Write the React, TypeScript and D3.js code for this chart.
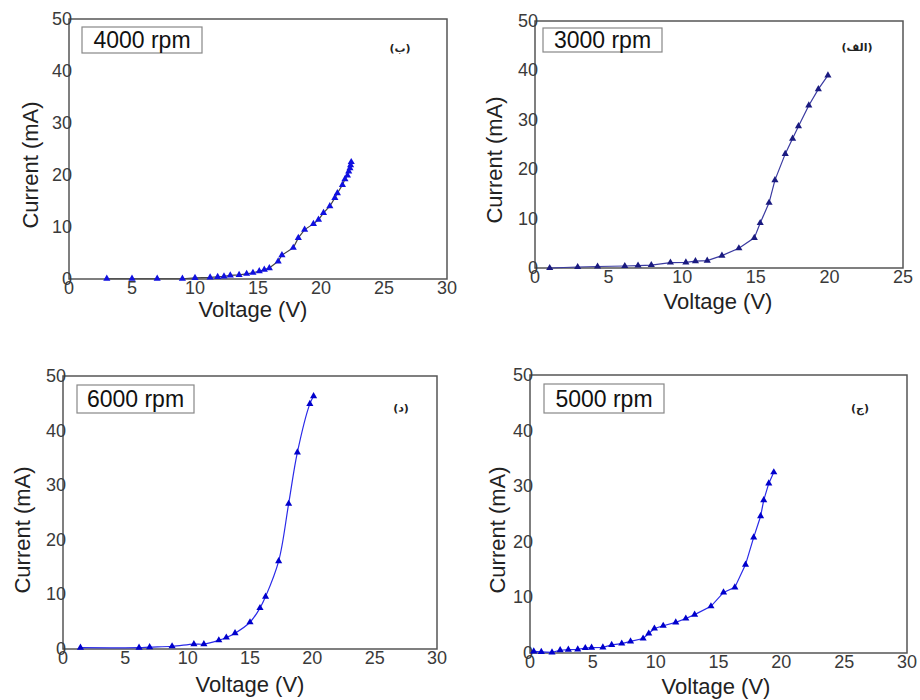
import * as d3 from "d3";
import React from "react";

// 4000 rpm (ب)
const v4000 = [3, 5, 7, 9, 10, 11.2, 11.8, 12.3, 12.8, 13.5, 14.1, 14.6, 15.1, 15.5, 15.9, 16.6, 16.9, 17.8, 18.2, 18.7, 19.4, 19.8, 20.2, 20.7, 21.1, 21.3, 21.7, 21.9, 22.1, 22.2, 22.3, 22.35, 22.4];
const i4000 = [0.05, 0.05, 0.05, 0.05, 0.2, 0.3, 0.4, 0.5, 0.7, 0.8, 1.0, 1.2, 1.5, 1.8, 2.1, 3.4, 4.6, 6.0, 7.9, 9.5, 10.6, 11.4, 12.7, 14.0, 15.6, 16.5, 18.1, 19.2, 19.9, 20.7, 21.3, 21.9, 22.5];

// 3000 rpm (الف)
const v3000 = [1.0, 2.9, 4.25, 6.1, 7.0, 7.9, 9.2, 10.25, 10.9, 11.7, 12.7, 13.85, 14.9, 15.3, 15.9, 16.3, 17.0, 17.5, 17.9, 18.6, 19.25, 19.9];
const i3000 = [0, 0.2, 0.3, 0.4, 0.5, 0.6, 1.1, 1.15, 1.4, 1.5, 2.5, 4.0, 6.1, 9.1, 13.2, 17.8, 23.1, 26.2, 28.7, 32.9, 36.2, 39.0];

// 6000 rpm (د)
const v6000 = [1.4, 6.1, 6.95, 8.75, 10.5, 11.3, 12.5, 13.1, 13.8, 15.0, 15.8, 16.25, 17.3, 18.1, 18.8, 19.8, 20.1];
const i6000 = [0.25, 0.25, 0.35, 0.5, 0.9, 0.9, 1.6, 2.1, 2.9, 4.9, 7.5, 9.6, 16.1, 26.6, 36.0, 44.9, 46.3];

// 5000 rpm (ج)
const v5000 = [0.3, 0.9, 1.75, 2.4, 3.05, 3.8, 4.4, 4.9, 5.8, 6.5, 7.3, 8.0, 9.0, 9.45, 9.9, 10.6, 11.6, 12.4, 13.1, 14.4, 15.4, 16.3, 17.15, 17.8, 18.35, 18.6, 19.0, 19.4];
const i5000 = [0.3, 0.2, 0.1, 0.5, 0.6, 0.65, 0.9, 0.95, 1.0, 1.45, 1.7, 2.1, 2.6, 3.5, 4.4, 4.9, 5.5, 6.2, 6.9, 8.4, 10.9, 11.8, 15.9, 20.8, 24.6, 27.5, 30.5, 32.5];

const xTicks30 = [0, 5, 10, 15, 20, 25, 30];
const xTicks25 = [0, 5, 10, 15, 20, 25];
const yTicks = [0, 10, 20, 30, 40, 50];

const FONT = "'Liberation Sans', Arial, sans-serif";

interface PanelProps {
  x0: number; x1: number; y0: number; y1: number;
  xs: number[]; ys: number[]; xTicks: number[];
  rpm: string; tag: string;
  box: [number, number, number, number];
  tagPos: [number, number];
  xLab: [number, number]; yLab: [number, number];
  lineColor: string; markColor: string; curve?: d3.CurveFactory;
}

const Panel = (p: PanelProps) => {
  const x = d3.scaleLinear().domain([0, p.xTicks[p.xTicks.length - 1]]).range([p.x0, p.x1]);
  const y = d3.scaleLinear().domain([0, 50]).range([p.y1, p.y0]);
  const pts = p.xs.map((v, k) => [v, p.ys[k]] as [number, number]);
  const line = d3.line<[number, number]>()
    .x((d) => x(d[0]))
    .y((d) => y(d[1]))
    .curve(p.curve ?? d3.curveLinear);
  const tri = d3.symbol(d3.symbolTriangle, 22)();
  return (
    <g fontFamily={FONT}>
      <rect x={p.x0} y={p.y0} width={p.x1 - p.x0} height={p.y1 - p.y0}
        fill="white" stroke="#555" strokeWidth={1.5} />
      {p.xTicks.map((t) => (
        <text key={"x" + t} x={x(t)} y={p.y1 + 15} fontSize={18} fill="#3a3a3a" textAnchor="middle">{t}</text>
      ))}
      {yTicks.map((t) => (
        <text key={"y" + t} x={p.x0 + 3} y={y(t) + 6} fontSize={18} fill="#3a3a3a" textAnchor="end">{t}</text>
      ))}
      <path d={line(pts) ?? ""} fill="none" stroke={p.lineColor} strokeWidth={1.2} />
      {pts.map((d, k) => (
        <path key={k} d={tri ?? ""} transform={`translate(${x(d[0])},${y(d[1])})`} fill={p.markColor} />
      ))}
      <rect x={p.box[0]} y={p.box[1]} width={p.box[2]} height={p.box[3]} fill="white" stroke="#888" strokeWidth={1.2} />
      <text x={p.box[0] + p.box[2] / 2} y={p.box[1] + p.box[3] / 2 + 8} fontSize={23} fill="#111" textAnchor="middle">{p.rpm}</text>
      <text x={p.tagPos[0]} y={p.tagPos[1]} fontSize={11} fontWeight="bold" fill="#222" textAnchor="middle"
        fontFamily="'DejaVu Sans', sans-serif">{p.tag}</text>
      <text x={p.xLab[0]} y={p.xLab[1]} fontSize={22} fill="#222" textAnchor="middle">Voltage (V)</text>
      <text transform={`translate(${p.yLab[0]},${p.yLab[1]}) rotate(-90)`} fontSize={22} fill="#222" textAnchor="middle">Current (mA)</text>
    </g>
  );
};

export default function App() {
  return (
    <svg width={920} height={700} style={{ position: "absolute", left: 0, top: 0, background: "white" }}>
      <rect width={920} height={700} fill="white" />
      <Panel x0={69} x1={447} y0={19} y1={279} xs={v4000} ys={i4000} xTicks={xTicks30}
        rpm="4000 rpm" tag="(ب)" box={[82, 27, 120, 26]} tagPos={[400, 52]}
        xLab={[253, 317]} yLab={[38, 165]} lineColor="#444" markColor="#1010e0" />
      <Panel x0={535} x1={903} y0={21} y1={268} xs={v3000} ys={i3000} xTicks={xTicks25}
        rpm="3000 rpm" tag="(الف)" box={[543, 28, 119, 24]} tagPos={[857, 51]}
        xLab={[718, 309]} yLab={[502, 160]} lineColor="#3a3aa0" markColor="#1a1a80" />
      <Panel x0={63} x1={437} y0={376} y1={649} xs={v6000} ys={i6000} xTicks={xTicks30}
        rpm="6000 rpm" tag="(د)" box={[77, 385, 117, 28]} tagPos={[401, 412]}
        xLab={[250, 692]} yLab={[30, 530]} lineColor="#2a2ae8" markColor="#0000cc"
        curve={d3.curveCatmullRom} />
      <Panel x0={530} x1={907} y0={375} y1={653} xs={v5000} ys={i5000} xTicks={xTicks30}
        rpm="5000 rpm" tag="(ج)" box={[544, 384, 120, 29]} tagPos={[860, 412]}
        xLab={[716, 694]} yLab={[505, 530]} lineColor="#2a2ae8" markColor="#0000cc" />
    </svg>
  );
}
